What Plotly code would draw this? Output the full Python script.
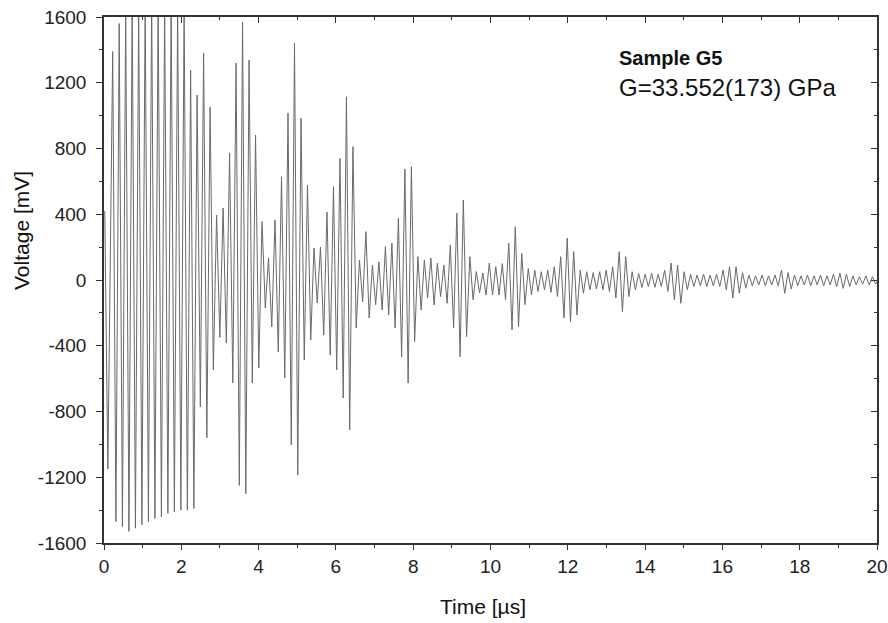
import plotly.graph_objects as go

# ---- values ----
x_tick_vals = [0, 2, 4, 6, 8, 10, 12, 14, 16, 18, 20]
x_tick_text = ["0", "2", "4", "6", "8", "10", "12", "14", "16", "18", "20"]
y_tick_vals = [-1600, -1200, -800, -400, 0, 400, 800, 1200, 1600]
y_tick_text = ["-1600", "-1200", "-800", "-400", "0", "400", "800", "1200", "1600"]

# carrier of the ultrasonic echo train (read from spike spacing)
carrier_period_us = 0.168
first_peak_us = 0.225

# leading samples before the first full carrier cycle
lead_t_us = [0.02, 0.10]
lead_mv = [420, -1150]

# positive peak of each carrier cycle [mV]
peak_hi_mv = [
    1390, 1560, 1650, 1700, 1650, 1700, 1720, 1700, 1680, 1700, 1650, 1650,   # echo 1 (saturated)
    1277, 1125, 1380, 1052, 395, 438, 772, 1320, 1570, 1338,                  # echo 2
    882, 355, 134, 365, 628, 1015, 1440, 985, 578, 195,                       # echo 3
    200, 414, 568, 740, 1115, 811, 120, 294,                                  # echo 4
    91, 111, 203, 223, 377, 675, 689, 142,                                    # echo 5
    122, 134, 103, 91, 213, 407, 487, 142,                                    # echo 6
    51, 43, 103, 81, 100, 224, 324, 162,                                      # echo 7
    70, 60, 50, 60, 80, 142, 255, 172,                                        # echo 8
    60, 50, 45, 50, 60, 81, 172, 142,                                         # echo 9
    50, 40, 35, 40, 35, 60, 103, 91,                                          # echo 10
    50, 35, 30, 35, 30, 35, 60, 81, 81,                                       # echo 11
    45, 30, 25, 30, 25, 30, 61, 45,                                           # echo 12
    30, 25, 30, 25, 30, 25, 35, 41, 35,                                       # echo 13
    25, 20, 25, 20,
]

# negative peak of each carrier cycle [mV]
peak_lo_mv = [
    -1470, -1500, -1530, -1510, -1490, -1470, -1450, -1440, -1420, -1410, -1400, -1400,
    -1390, -772, -960, -547, -350, -383, -626, -1250, -1300, -627,
    -535, -170, -285, -438, -596, -1003, -1186, -487, -365, -140,
    -335, -456, -547, -718, -912, -292, -132, -231,
    -150, -182, -213, -292, -468, -627, -375, -182,
    -110, -152, -101, -142, -292, -466, -345, -120,
    -79, -91, -91, -91, -120, -304, -284, -150,
    -90, -70, -60, -75, -100, -231, -253, -213,
    -80, -60, -55, -60, -70, -110, -193, -101,
    -60, -45, -40, -45, -40, -70, -122, -142,
    -60, -40, -35, -40, -35, -40, -60, -110, -80,
    -50, -35, -30, -35, -30, -35, -81, -55,
    -35, -30, -35, -30, -35, -30, -40, -51, -40,
    -30, -25, -30, -25,
]

tail_t_us = [20.0]
tail_mv = [-10]

# ---- assemble the trace ----
t = list(lead_t_us)
v = list(lead_mv)
for i, (hi, lo) in enumerate(zip(peak_hi_mv, peak_lo_mv)):
    tu = first_peak_us + i * carrier_period_us
    t += [tu, tu + carrier_period_us / 2]
    v += [hi, lo]
t += tail_t_us
v += tail_mv

FONT = "Liberation Sans, Arial, sans-serif"
AX = "#333333"

W, H = 888, 623
ML, MR, MT, MB = 104, 11, 17, 80

fig = go.Figure()
fig.add_trace(go.Scatter(x=t, y=v, mode="lines",
                         line=dict(color="#6a6a6a", width=1),
                         showlegend=False, hoverinfo="skip"))
# dummy trace so the mirrored (top/right) axes are drawn
fig.add_trace(go.Scatter(x=[None], y=[None], xaxis="x2", yaxis="y2",
                         showlegend=False, hoverinfo="skip"))

axis_common = dict(showgrid=False, zeroline=False, showline=True,
                   linecolor=AX, linewidth=1.5, tickcolor=AX,
                   tickwidth=1.2, automargin=False)

pw = W - ML - MR
ph = H - MT - MB


def px_to_paper(xp, yp):
    return ((xp - ML) / pw, 1 - (yp - MT) / ph)


ann = []
for text, xp, yp, size, xanchor, angle in [
    ("<b>Sample G5</b>", 617, 58, 20, "left", 0),
    ("G=33.552(173) GPa", 617, 87, 24, "left", 0),
    ("Time [µs]", 483, 606, 21, "center", 0),
    ("Voltage [mV]", 21, 231, 21, "center", -90),
]:
    xx, yy = px_to_paper(xp, yp)
    ann.append(dict(text=text, x=xx, y=yy, xref="paper", yref="paper",
                    showarrow=False, xanchor=xanchor, yanchor="middle",
                    textangle=angle, font=dict(size=size, color="#111111")))

fig.update_layout(
    width=W, height=H,
    margin=dict(l=ML, r=MR, t=MT, b=MB, autoexpand=False),
    paper_bgcolor="white", plot_bgcolor="white",
    font=dict(family=FONT, size=19, color="#222222"),
    xaxis=dict(range=[0, 20], tickmode="array", tickvals=x_tick_vals,
               ticktext=x_tick_text, ticks="outside", ticklen=5,
               minor=dict(ticks="outside", ticklen=3, dtick=1, tickcolor=AX),
               tickfont=dict(size=19), ticklabeloverflow="allow",
               **axis_common),
    yaxis=dict(range=[-1600, 1600], tickmode="array", tickvals=y_tick_vals,
               ticktext=y_tick_text, ticks="outside", ticklen=6,
               minor=dict(ticks="outside", ticklen=3, dtick=200, tickcolor=AX),
               tickfont=dict(size=19), ticklabeloverflow="allow",
               ticklabelstandoff=6, **axis_common),
    xaxis2=dict(range=[0, 20], overlaying="x", side="top", anchor="y",
                tickvals=x_tick_vals, showticklabels=False, ticks="inside",
                ticklen=6, minor=dict(ticks="inside", ticklen=3, dtick=1,
                                      tickcolor=AX),
                **axis_common),
    yaxis2=dict(range=[-1600, 1600], overlaying="y", side="right", anchor="x",
                tickvals=y_tick_vals, showticklabels=False, ticks="inside",
                ticklen=6, minor=dict(ticks="inside", ticklen=3, dtick=200,
                                      tickcolor=AX),
                **axis_common),
    annotations=ann,
)

# remove the browser's default 8px body margin so the figure sits at (0,0)
fig.write_html("out.html",
               config={"displayModeBar": False},
               post_script="document.body.style.margin='0';"
                           "document.body.style.overflow='hidden';")
